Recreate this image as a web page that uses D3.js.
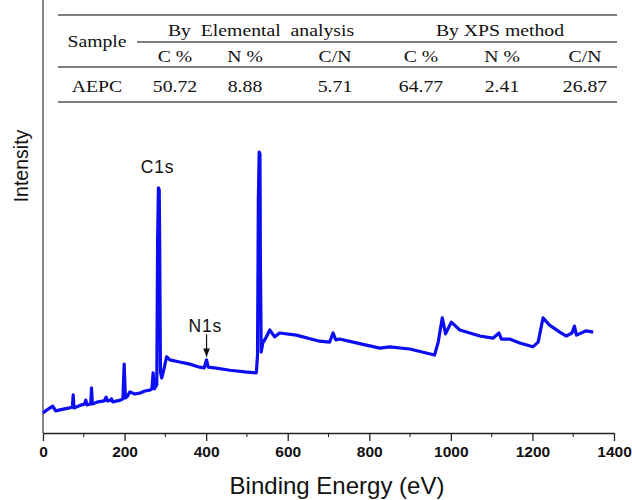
<!DOCTYPE html>
<html>
<head>
<meta charset="utf-8">
<script src="https://cdn.jsdelivr.net/npm/d3@7"></script>
<style>
  body { margin: 0; background: #fff; }
  svg { display: block; }
  .tbl { font-family: "Liberation Serif", "Times New Roman", serif; fill: #111; }
  .ax text { font-family: Arial, "Liberation Sans", sans-serif; font-weight: bold; fill: #111; }
</style>
</head>
<body>
<svg width="632" height="500"></svg>
<script>
// XPS survey spectrum (binding energy in eV, intensity in arbitrary units)
const energy = [0, 9, 24, 31, 50, 65, 72, 74, 76, 95, 102, 105, 108, 117, 119, 121, 135, 150, 155, 158,
  166, 168, 171, 190, 196, 199, 202, 207, 213, 225, 237, 250, 262, 267, 270, 273, 279, 281, 283, 285,
  286, 288, 291, 296, 303, 311, 335, 360, 384, 395, 401, 405, 425, 458, 495, 523, 526, 528, 530, 532,
  533, 535, 539, 546, 556, 568, 580, 621, 678, 703, 711, 718, 727, 760, 826, 850, 899, 960, 969, 979,
  987, 1001, 1022, 1071, 1103, 1118, 1124, 1144, 1169, 1201, 1214, 1226, 1242, 1267, 1283, 1297, 1303, 1308, 1332, 1349];
const intensity = [4.6, 5.3, 6.2, 5.1, 5.5, 5.8, 6.0, 8.8, 5.8, 6.5, 6.7, 7.6, 6.5, 6.7, 10.4, 6.7, 7.2, 7.4, 8.3, 7.4,
  7.6, 7.9, 7.2, 7.6, 7.9, 15.9, 8.1, 8.5, 9.5, 9.0, 9.2, 9.7, 9.9, 10.2, 13.9, 10.2, 11.1, 44.6, 56.6, 56.1,
  45.0, 14.1, 12.7, 14.5, 17.6, 16.9, 16.4, 15.9, 15.2, 15.0, 16.9, 15.2, 15.0, 14.5, 14.1, 13.9, 18.0, 53.8, 64.9, 64.4,
  40.0, 18.7, 20.8, 21.9, 23.8, 22.2, 23.1, 22.6, 21.2, 21.0, 23.1, 21.5, 21.7, 21.0, 19.6, 19.9, 19.4, 18.0, 21.0, 26.6,
  22.9, 25.6, 23.8, 22.4, 21.9, 23.1, 21.7, 21.7, 20.8, 19.9, 21.0, 26.6, 24.9, 23.3, 22.4, 23.1, 24.7, 22.6, 23.6, 23.3];

// peak labels
const peakNames = ["C1s", "N1s"];
const peakLabelE = [281, 398];
const peakLabelI = [60, 23.3];

// inset table
const groupHeads = ["By  Elemental  analysis", "By XPS method"];
const colHeads = ["C %", "N %", "C/N", "C %", "N %", "C/N"];
const sampleName = "AEPC";
const sampleVals = ["50.72", "8.88", "5.71", "64.77", "2.41", "26.87"];

const svg = d3.select("svg");
const margin = { left: 43, right: 18, top: 0, bottom: 67 };
const W = 632, H = 500;

const x = d3.scaleLinear().domain([0, 1400]).range([margin.left, W - margin.right]);
const y = d3.scaleLinear().domain([0, 100]).range([H - margin.bottom, 0]);

// axes
const xAxis = svg.append("g")
  .attr("class", "ax")
  .attr("transform", `translate(0,${y(0)})`)
  .call(d3.axisBottom(x).tickValues(d3.range(0, 1401, 200)).tickFormat(d3.format("d"))
    .tickSize(8).tickSizeOuter(0).tickPadding(5));
xAxis.selectAll("text").attr("font-size", 15.5);
// minor ticks
xAxis.selectAll(".minor")
  .data(d3.range(100, 1400, 200))
  .join("line")
  .attr("class", "minor")
  .attr("x1", (d) => x(d)).attr("x2", (d) => x(d))
  .attr("y1", 0).attr("y2", 4)
  .attr("stroke", "#222");
xAxis.select(".domain").attr("stroke", "#222").attr("stroke-width", 1.3);
xAxis.selectAll(".tick line").attr("stroke", "#222").attr("stroke-width", 1.3);

svg.append("line")
  .attr("x1", x(0)).attr("x2", x(0))
  .attr("y1", y(100)).attr("y2", y(0))
  .attr("stroke", "#444").attr("stroke-width", 1.3);

svg.append("text")
  .attr("x", 337).attr("y", 494)
  .attr("text-anchor", "middle")
  .attr("font-family", "Arial, 'Liberation Sans', sans-serif")
  .attr("font-size", 24)
  .attr("fill", "#111")
  .text("Binding Energy (eV)");

svg.append("text")
  .attr("transform", "translate(28,166) rotate(-90)")
  .attr("text-anchor", "middle")
  .attr("font-family", "Arial, 'Liberation Sans', sans-serif")
  .attr("font-size", 19.5)
  .attr("fill", "#111")
  .text("Intensity");

// spectrum
const pts = energy.map((e, i) => [e, intensity[i]]);
svg.append("path")
  .datum(pts)
  .attr("fill", "none")
  .attr("stroke", "#0d0df2")
  .attr("stroke-width", 3.2)
  .attr("stroke-linejoin", "round")
  .attr("d", d3.line().x((d) => x(d[0])).y((d) => y(d[1])));

// peak labels
svg.selectAll(".peak")
  .data(peakNames)
  .join("text")
  .attr("class", "peak")
  .attr("x", (d, i) => x(peakLabelE[i]))
  .attr("y", (d, i) => y(peakLabelI[i]))
  .attr("text-anchor", "middle")
  .attr("font-family", "Arial, 'Liberation Sans', sans-serif")
  .attr("font-size", 17.5)
  .attr("letter-spacing", 0.8)
  .attr("fill", "#111")
  .text((d) => d);

// N1s arrow
svg.append("defs").append("marker")
  .attr("id", "arrow")
  .attr("viewBox", "0 -5 10 10")
  .attr("refX", 10)
  .attr("markerWidth", 7)
  .attr("markerHeight", 7)
  .attr("orient", "auto")
  .append("path")
  .attr("d", "M0,-4L10,0L0,4Z")
  .attr("fill", "#111");
svg.append("line")
  .attr("x1", x(401)).attr("x2", x(401))
  .attr("y1", y(22.8)).attr("y2", y(17.6))
  .attr("stroke", "#111").attr("stroke-width", 1.2)
  .attr("marker-end", "url(#arrow)");

// table
const tbl = svg.append("g").attr("class", "tbl");
const colX = [175, 245, 335, 421, 502, 585];
const groupX = [261, 500];
const sx = 1.16;
function cell(str, cx, cy) {
  tbl.append("text")
    .attr("transform", `translate(${cx},${cy}) scale(${sx},1)`)
    .attr("text-anchor", "middle")
    .attr("font-size", 17)
    .attr("xml:space", "preserve")
    .style("white-space", "pre")
    .text(str);
}
function hline(x1, x2, yy) {
  tbl.append("line")
    .attr("x1", x1).attr("x2", x2).attr("y1", yy).attr("y2", yy)
    .attr("stroke", "#555").attr("stroke-width", 1.6);
}
hline(58, 617, 15);
hline(137, 617, 42);
hline(58, 617, 67);
hline(58, 617, 102);
cell("Sample", 97, 47);
groupHeads.forEach((g, i) => cell(g, groupX[i], 36));
colHeads.forEach((c, i) => cell(c, colX[i], 62));
cell(sampleName, 97, 92);
sampleVals.forEach((v, i) => cell(v, colX[i], 92));
</script>
</body>
</html>
